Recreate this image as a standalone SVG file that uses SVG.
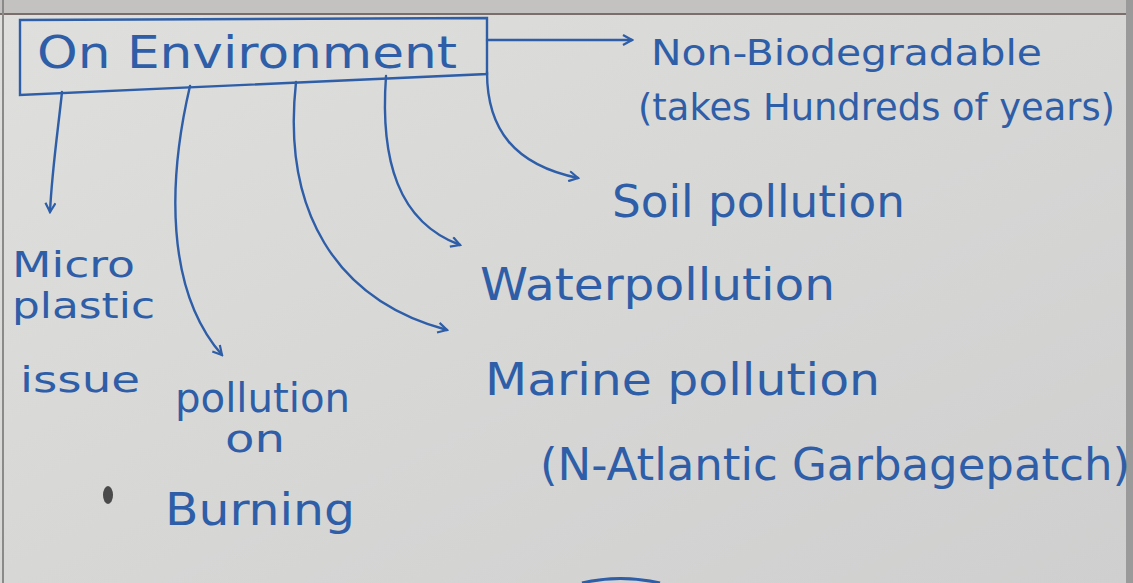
<svg xmlns="http://www.w3.org/2000/svg" width="1133" height="583" viewBox="0 0 1133 583">
<defs>
<marker id="arr" viewBox="0 0 12 12" refX="10" refY="6" markerWidth="12" markerHeight="12" markerUnits="userSpaceOnUse" orient="auto">
<path d="M1,1 L10,6 L1,11" fill="none" stroke="#2e5ea8" stroke-width="2.2"/>
</marker>
<linearGradient id="paper" x1="0" y1="0" x2="1" y2="1">
<stop offset="0" stop-color="#dfdfdd"/>
<stop offset="1" stop-color="#cfcfcf"/>
</linearGradient>
</defs>
<style>
.ink{fill:#2e5ea8;font-family:"DejaVu Sans","Liberation Sans",sans-serif;}
.ln{fill:none;stroke:#2e5ea8;stroke-width:2.4;stroke-linecap:round;}
</style>
<rect width="1133" height="583" fill="url(#paper)"/>
<rect width="1133" height="13" fill="#c4c2c0"/>
<line x1="0" y1="14" x2="1133" y2="14" stroke="#7a6e6c" stroke-width="2"/>
<line x1="3" y1="0" x2="3" y2="583" stroke="#8a8a8a" stroke-width="2"/>
<rect x="1126" y="0" width="7" height="583" fill="#9a9a9a"/>
<path d="M582,583 Q620,574 660,583" fill="none" stroke="#2e5ea8" stroke-width="3"/>
<ellipse cx="108" cy="495" rx="5" ry="9" fill="#4a4a4a"/>

<g id="root">
<path d="M20,20 L487,18 L487,74 L20,95 Z" fill="none" stroke="#2e5ea8" stroke-width="2.4"/>
<text class="ink" x="37" y="68" font-size="44" textLength="420" lengthAdjust="spacingAndGlyphs">On Environment</text>
</g>

<g id="connectors">
<path class="ln" d="M487,40 L632,40" marker-end="url(#arr)"/>
<path class="ln" d="M487,72 C487,130 515,165 578,178" marker-end="url(#arr)"/>
<path class="ln" d="M386,76 C380,160 398,222 460,245" marker-end="url(#arr)"/>
<path class="ln" d="M296,82 C282,210 335,300 447,330" marker-end="url(#arr)"/>
<path class="ln" d="M190,86 C168,180 165,290 222,355" marker-end="url(#arr)"/>
<path class="ln" d="M62,92 C58,130 52,170 50,212" marker-end="url(#arr)"/>
</g>

<g id="nonbio">
<text class="ink" x="651" y="65" font-size="36" textLength="391" lengthAdjust="spacingAndGlyphs">Non-Biodegradable</text>
<text class="ink" x="638" y="120" font-size="38" textLength="477" lengthAdjust="spacingAndGlyphs">(takes Hundreds of years)</text>
</g>

<g id="soil">
<text class="ink" x="612" y="217" font-size="44" textLength="293" lengthAdjust="spacingAndGlyphs">Soil pollution</text>
</g>

<g id="water">
<text class="ink" x="480" y="300" font-size="44" textLength="355" lengthAdjust="spacingAndGlyphs">Waterpollution</text>
</g>

<g id="marine">
<text class="ink" x="485" y="395" font-size="44" textLength="395" lengthAdjust="spacingAndGlyphs">Marine pollution</text>
<text class="ink" x="540" y="480" font-size="44" textLength="590" lengthAdjust="spacingAndGlyphs">(N-Atlantic Garbagepatch)</text>
</g>

<g id="burning">
<text class="ink" x="175" y="412" font-size="40" textLength="175" lengthAdjust="spacingAndGlyphs">pollution</text>
<text class="ink" x="225" y="452" font-size="38" textLength="60" lengthAdjust="spacingAndGlyphs">on</text>
<text class="ink" x="165" y="525" font-size="44" textLength="190" lengthAdjust="spacingAndGlyphs">Burning</text>
</g>

<g id="micro">
<text class="ink" x="12" y="277" font-size="36" textLength="123" lengthAdjust="spacingAndGlyphs">Micro</text>
<text class="ink" x="12" y="318" font-size="36" textLength="143" lengthAdjust="spacingAndGlyphs">plastic</text>
<text class="ink" x="20" y="392" font-size="36" textLength="120" lengthAdjust="spacingAndGlyphs">issue</text>
</g>
</svg>
